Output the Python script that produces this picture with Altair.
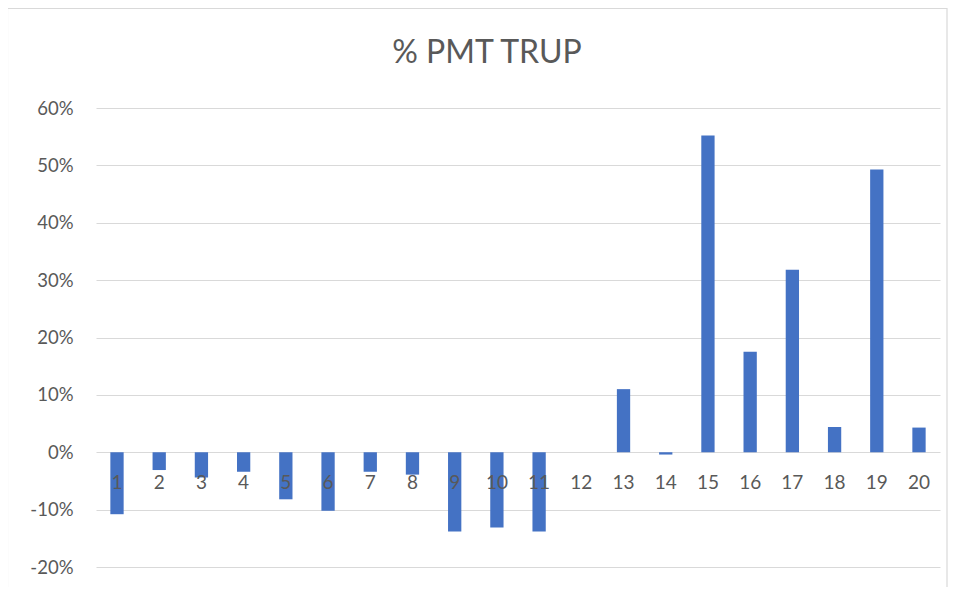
import altair as alt
import pandas as pd

title_text = "% PMT TRUP"
categories = [str(i) for i in range(1, 21)]
values = [-10.8, -3.1, -4.4, -3.4, -8.2, -10.2, -3.4, -3.9, -13.8, -13.1,
          -13.8, 0.0, 11.0, -0.4, 55.2, 17.5, 31.8, 4.4, 49.3, 4.3]
y_ticks = [-0.2, -0.1, 0.0, 0.1, 0.2, 0.3, 0.4, 0.5, 0.6]

df = pd.DataFrame({"cat": categories, "val": [v / 100 for v in values]})

W, H = 844, 459
FONT = "Lato"
GREY = "#595959"

x_enc = alt.X("cat:O", sort=categories, axis=None,
              scale=alt.Scale(paddingInner=0.685, paddingOuter=0.34))

base = alt.Chart(df)

bars = base.mark_bar(color="#4472C4").encode(
    x=x_enc,
    y=alt.Y("val:Q",
            scale=alt.Scale(domain=[-0.2, 0.6], nice=False),
            axis=alt.Axis(values=y_ticks, title=None,
                          labelExpr="round(datum.value*100) + '%'",
                          domain=False, ticks=False, labelPadding=23,
                          labelFont=FONT, labelFontSize=18.5, labelColor=GREY,
                          gridColor="#d9d9d9", gridWidth=1.2)),
)

labels = base.mark_text(font=FONT, fontSize=19, color=GREY,
                        baseline="middle", dy=31).encode(
    x=x_enc,
    y=alt.datum(0),
    text="cat:N",
)

border = alt.Chart(pd.DataFrame({"b": [0]})).mark_rect(
    fill=None, stroke="#d9d9d9", strokeWidth=1.2, clip=False
).encode(
    x=alt.value(-88.5), x2=alt.value(W + 7),
    y=alt.value(-99.5), y2=alt.value(H + 40),
)

title = alt.Chart(pd.DataFrame({"t": [title_text]})).mark_text(
    font=FONT, fontSize=32, color=GREY, baseline="middle", align="center"
).encode(
    x=alt.value(391), y=alt.value(-55), text="t:N",
)

chart = alt.layer(border, bars, labels, title).properties(
    width=W, height=H,
    autosize="none",
    padding={"left": 88, "top": 100, "right": 8, "bottom": 20},
).configure_view(stroke=None)

chart.save("out.html", embed_options={"renderer": "svg", "actions": False})
